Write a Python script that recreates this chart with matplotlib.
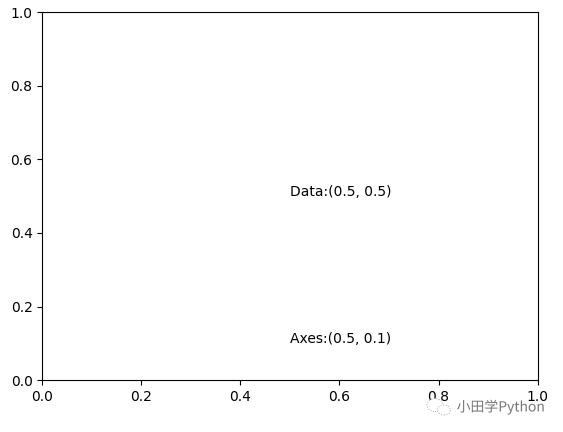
import matplotlib
matplotlib.use("Agg")
import matplotlib.pyplot as plt
import matplotlib.patheffects as pe
from matplotlib.patches import Ellipse

plt.rcParams['font.family'] = ['DejaVu Sans', 'Noto Sans CJK SC']

data_label = "Data:(0.5, 0.5)"
data_pos = (0.5, 0.5)
axes_label = "Axes:(0.5, 0.1)"
axes_pos = (0.5, 0.1)
watermark = "小田学Python"

fig, ax = plt.subplots(figsize=(5.63, 4.32), dpi=100)
fig.subplots_adjust(left=0.075, right=0.955, top=0.972, bottom=0.12)
ax.set_xlim(0, 1)
ax.set_ylim(0, 1)

ax.text(data_pos[0], data_pos[1], data_label, transform=ax.transData, fontsize=10)
ax.text(axes_pos[0], axes_pos[1], axes_label, transform=ax.transAxes, fontsize=10)

# little chat bubble logo left of the watermark
for x, y, w, h in [(435, 405, 16, 13), (444, 410, 13, 10)]:
    fig.add_artist(Ellipse((x / 563, 1 - y / 432), w / 563, h / 432, transform=fig.transFigure,
                           facecolor="white", edgecolor="#aaaaaa", linewidth=0.7, linestyle=":"))

# watermark sits on top of the figure, thin grey with a white halo
halo = [pe.withStroke(linewidth=1.5, foreground="white")]
fig.text(0.811, 0.058, watermark, fontsize=10, color="#777777", va="center",
         family=['Noto Sans CJK SC', 'DejaVu Sans'], path_effects=halo)

fig.savefig("out.png", dpi=100)
